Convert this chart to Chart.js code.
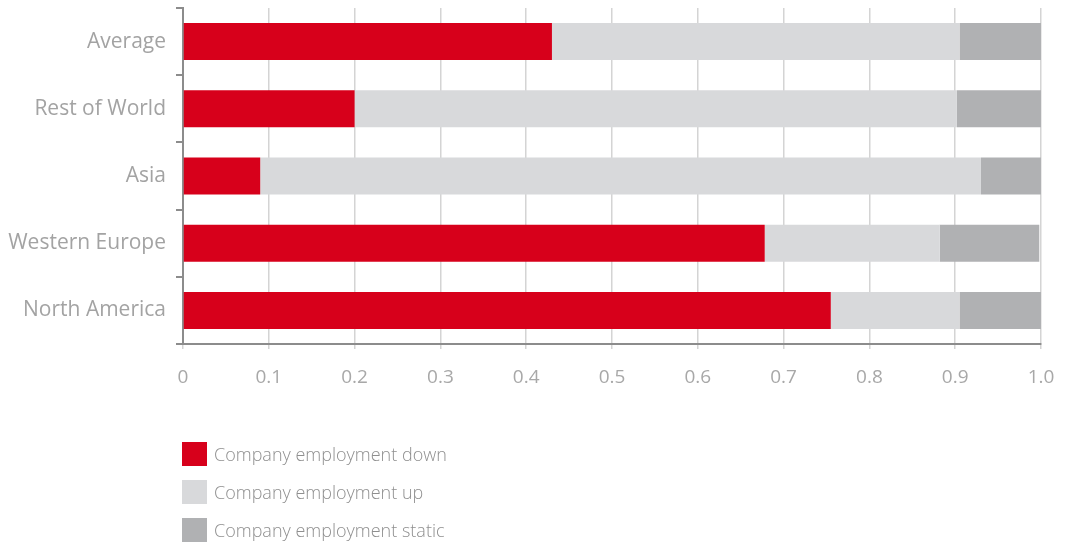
<!DOCTYPE html>
<html>
<head>
    <title>Company employment by region</title>
    <script src="https://cdn.jsdelivr.net/npm/chart.js"></script>
    <style>
        body { margin: 0; background: #fff; font-family: "Open Sans", sans-serif; }
        #wrap { position: relative; width: 1066px; height: 545px; }
        #legend { position: absolute; left: 182px; top: 442px; }
        .item { height: 38px; display: flex; align-items: flex-start; }
        .box { width: 25px; height: 24px; margin-right: 7px; }
        .txt { font-size: 18px; font-weight: 300; color: #8f8f8f; line-height: 24px; }
    </style>
</head>
<body>
    <div id="wrap">
        <canvas id="chart" width="1066" height="545"></canvas>
        <div id="legend"></div>
    </div>

    <script>
        const regions = ['Average', 'Rest of World', 'Asia', 'Western Europe', 'North America'];
        const down = [0.43, 0.20, 0.09, 0.678, 0.755];
        const up = [0.475, 0.702, 0.84, 0.204, 0.15];
        const stat = [0.095, 0.098, 0.07, 0.116, 0.095];

        const seriesNames = ['Company employment down', 'Company employment up', 'Company employment static'];
        const seriesColors = ['#d7001b', '#d8d9db', '#b0b1b3'];

        const ctx = document.getElementById('chart').getContext('2d');
        const chart = new Chart(ctx, {
            type: 'bar',
            data: {
                labels: regions,
                datasets: [
                    { label: seriesNames[0], data: down, backgroundColor: seriesColors[0] },
                    { label: seriesNames[1], data: up, backgroundColor: seriesColors[1] },
                    { label: seriesNames[2], data: stat, backgroundColor: seriesColors[2] }
                ]
            },
            options: {
                indexAxis: 'y',
                responsive: false,
                animation: false,
                categoryPercentage: 1,
                barPercentage: 0.55,
                layout: { padding: { top: 8, right: 25, bottom: 0, left: 0 } },
                plugins: {
                    legend: { display: false },
                    tooltip: { enabled: false }
                },
                scales: {
                    x: {
                        stacked: true,
                        min: 0,
                        max: 1,
                        afterFit: s => { s.height = 201; s.paddingLeft = 0; s.paddingRight = 0; },
                        border: { color: '#8c8c8c', width: 2 },
                        grid: { color: '#d4d4d4', lineWidth: 1.5, tickLength: 5 },
                        ticks: {
                            stepSize: 0.1,
                            padding: 17,
                            color: '#a8a8a8',
                            font: { family: 'Open Sans', size: 19 },
                            callback: v => v === 0 ? '0' : v.toFixed(1)
                        }
                    },
                    y: {
                        stacked: true,
                        afterFit: s => { s.width = 183; s.paddingTop = 0; s.paddingBottom = 0; },
                        border: { color: '#8c8c8c', width: 2 },
                        grid: { offset: true, drawOnChartArea: false, color: '#8c8c8c', lineWidth: 2, tickLength: 7 },
                        ticks: {
                            padding: 10,
                            color: '#a3a3a3',
                            font: { family: 'Open Sans', size: 21 }
                        }
                    }
                }
            }
        });

        const legend = document.getElementById('legend');
        chart.data.datasets.forEach(ds => {
            const item = document.createElement('div');
            item.className = 'item';
            const box = document.createElement('div');
            box.className = 'box';
            box.style.background = ds.backgroundColor;
            const txt = document.createElement('span');
            txt.className = 'txt';
            txt.textContent = ds.label;
            item.appendChild(box);
            item.appendChild(txt);
            legend.appendChild(item);
        });
    </script>
</body>
</html>
